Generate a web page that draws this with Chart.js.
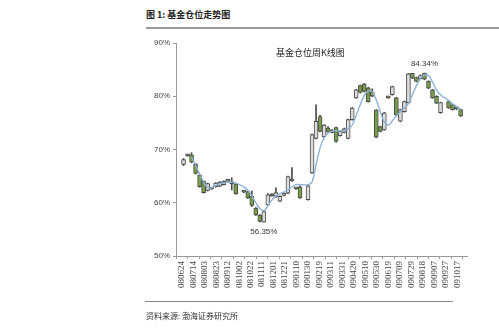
<!DOCTYPE html>
<html>
<head>
<meta charset="utf-8">
<script src="https://cdn.jsdelivr.net/npm/chart.js@4.4.0/dist/chart.umd.min.js"></script>
<style>
  html, body { margin: 0; padding: 0; background: #fff; }
  #wrap { position: relative; width: 499px; height: 329px; overflow: hidden; }
  #c { position: absolute; left: 0; top: 0; }
  .txt { position: absolute; font-family: "Noto Sans CJK SC"; color: #222; white-space: nowrap; line-height: 12px; }
</style>
</head>
<body>
<div id="wrap">
  <div class="txt" style="left:146px;top:9px;font-size:9px;font-weight:bold;">图 1: 基金仓位走势图</div>
  <div style="position:absolute;left:146px;top:27px;width:353px;height:2px;background:#9c9c9c"></div>
  <canvas id="c" width="499" height="329"></canvas>
  <div class="txt" style="left:276px;top:47px;font-size:9px;">基金仓位周K线图</div>
  <div style="position:absolute;left:145px;top:301px;width:308px;height:1px;background:#8a8a8a"></div>
  <div class="txt" style="left:146px;top:310px;font-size:8px;color:#333">资料来源: 渤海证券研究所</div>
</div>
<script>
// weekly candles (week-ending dates), values in %
const candleDates = [
  "080627","080704","080711","080718","080725","080801","080808","080815","080822","080829",
  "080905","080912","080919","080926","081010","081017","081024","081031","081107","081114",
  "081121","081128","081205","081212","081219","081226","090102","090109","090116","090130",
  "090206","090213","090220","090227","090306","090313","090320","090327","090403","090410",
  "090417","090424","090501","090508","090515","090522","090529","090605","090612","090619",
  "090626","090703","090710","090717","090724","090731","090807","090814","090821","090828",
  "090904","090911","090918","091002","091009","091016","091023"
];
const openVals = [
  67.2,68.9,69.0,67.2,65.2,64.0,62.3,62.7,63.0,63.1,
  63.4,64.1,63.6,63.5,62.2,62.1,61.2,59.0,57.7,56.35,
  59.6,61.6,61.2,60.3,61.4,61.8,64.3,62.7,63.0,60.6,
  65.6,72.1,76.2,72.4,74.0,73.6,74.1,72.6,73.2,72.1,
  75.6,79.7,82.0,82.3,81.6,80.8,77.4,74.3,73.7,79.8,
  80.3,79.7,75.3,77.1,78.8,84.3,83.5,83.3,84.34,82.8,
  81.2,80.0,76.9,79.0,78.4,78.0,77.5
];
const closeVals = [
  68.1,68.8,67.6,65.5,63.0,61.9,63.6,62.6,63.7,63.9,
  64.0,64.0,63.8,61.7,62.0,60.9,59.5,57.7,56.5,58.35,
  61.5,61.3,61.9,61.2,61.7,64.9,64.1,62.6,60.9,63.2,
  72.8,75.3,73.4,74.6,73.3,73.2,71.5,73.4,73.9,75.6,
  77.8,81.2,80.7,80.9,79.0,80.0,72.3,73.4,76.9,79.7,
  81.8,76.5,77.5,79.0,84.2,83.4,82.8,83.9,83.2,81.5,
  79.7,78.7,78.8,77.8,77.5,77.6,76.3
];
const highVals = [
  68.3,69.0,69.4,67.4,65.3,64.1,63.7,62.8,63.8,64.0,
  64.1,64.2,64.7,63.6,62.3,62.2,62.2,59.1,57.8,58.5,
  61.7,61.7,62.8,61.3,61.8,65.0,66.6,62.8,63.2,63.3,
  72.9,78.4,76.4,74.7,74.3,73.8,74.2,73.5,74.0,75.7,
  77.9,81.3,82.1,82.4,81.7,81.4,77.5,74.4,77.0,79.9,
  81.9,79.8,77.6,79.1,84.3,84.3,83.6,84.0,84.34,82.9,
  81.3,80.1,78.9,79.1,78.5,78.1,77.6
];
const lowVals = [
  67.0,68.7,67.5,65.4,62.9,61.8,62.2,62.5,62.9,63.0,
  63.3,63.9,62.4,61.6,61.9,60.8,59.3,57.6,56.4,56.35,
  59.5,61.2,61.0,60.2,61.3,61.7,64.0,62.5,60.8,60.5,
  65.5,72.0,73.3,72.3,73.2,73.1,71.4,72.5,73.1,72.0,
  75.5,79.6,80.6,80.8,78.9,79.9,72.2,73.3,73.6,79.6,
  80.2,76.4,75.2,77.0,78.7,83.3,82.7,83.2,83.1,81.4,
  79.6,78.6,76.8,77.7,77.4,77.5,76.2
];
// smoothed trend line
const trendVals = [
  null,null,68.6,67.1,65.4,63.9,62.9,62.8,63.2,63.6,
  63.7,63.9,63.9,63.7,63.0,62.4,61.3,60.0,58.9,58.5,
  59.4,60.5,61.3,61.7,62.0,62.4,63.0,63.4,63.4,63.4,
  63.9,67.1,70.3,72.2,73.1,73.5,73.5,73.5,73.5,73.9,
  74.6,76.5,78.4,80.1,81.0,80.8,79.3,77.1,75.2,74.6,
  75.4,76.3,77.1,77.8,78.6,80.3,82.0,83.3,84.0,83.9,
  82.7,81.2,80.3,79.2,78.6,78.0,77.5
];
const tickLabels = [
  "080624","080714","080803","080823","080912","081002","081022","081111","081201","081221",
  "090110","090130","090219","090311","090331","090420","090510","090530","090619","090709",
  "090729","090818","090907","090927","091017"
];
const yTicks = [50, 60, 70, 80, 90];

const UP_FILL = "#dcdcdc";
const DOWN_FILL = "#78a04c";
const EDGE = "#4a4a4a";

function dayOf(s) {
  const y = 2000 + Number(s.slice(0, 2));
  const m = Number(s.slice(2, 4)) - 1;
  const d = Number(s.slice(4, 6));
  return Math.round((Date.UTC(y, m, d) - Date.UTC(2008, 5, 24)) / 86400000);
}

const xs = candleDates.map(dayOf);
const isUp = (i) => closeVals[i] >= openVals[i];

// min / max labels (56.35% and 84.34%)
const notesPlugin = {
  id: "notes",
  afterDatasetsDraw(chart) {
    const { ctx, scales } = chart;
    let lo = 0, hi = 0;
    lowVals.forEach((v, i) => { if (v < lowVals[lo]) lo = i; });
    highVals.forEach((v, i) => { if (v > highVals[hi]) hi = i; });
    ctx.save();
    ctx.font = '8px "Liberation Sans"';
    ctx.fillStyle = "#333";
    ctx.textAlign = "center";
    ctx.textBaseline = "top";
    ctx.fillText(lowVals[lo].toFixed(2) + "%",
      scales.x.getPixelForValue(xs[lo]), scales.y.getPixelForValue(lowVals[lo]) + 6);
    ctx.textBaseline = "bottom";
    ctx.fillText(highVals[hi].toFixed(2) + "%",
      scales.x.getPixelForValue(xs[hi]), scales.y.getPixelForValue(highVals[hi]) - 5);
    ctx.restore();
  }
};

new Chart(document.getElementById("c"), {
  type: "bar",
  data: {
    datasets: [
      {
        type: "line",
        label: "trend",
        data: xs.map((x, i) => ({ x, y: trendVals[i] })),
        borderColor: "#8db3d8",
        borderWidth: 1.4,
        pointRadius: 0,
        tension: 0.4,
        order: 0,
      },
      {
        label: "body",
        data: xs.map((x, i) => ({ x, y: [openVals[i], closeVals[i]] })),
        backgroundColor: (c) => (isUp(c.dataIndex) ? UP_FILL : DOWN_FILL),
        borderColor: EDGE,
        borderWidth: 1,
        borderSkipped: false,
        barThickness: 4,
        minBarLength: 2,
        grouped: false,
        order: 1,
      },
      {
        label: "wick",
        data: xs.map((x, i) => ({ x, y: [lowVals[i], highVals[i]] })),
        backgroundColor: EDGE,
        barThickness: 1,
        grouped: false,
        order: 2,
      },
    ],
  },
  options: {
    responsive: false,
    animation: false,
    devicePixelRatio: 1,
    layout: { padding: { left: 130, top: 43, right: 32, bottom: 30 } },
    plugins: { legend: { display: false }, tooltip: { enabled: false } },
    scales: {
      x: {
        type: "linear",
        min: 0,
        max: 487,
        afterFit: (s) => { s.height = 43; },
        afterBuildTicks: (s) => { s.ticks = tickLabels.map((t) => ({ value: dayOf(t) })); },
        grid: { drawOnChartArea: false, tickLength: 3, color: "#999" },
        border: { color: "#999" },
        ticks: {
          autoSkip: false,
          minRotation: 90,
          maxRotation: 90,
          padding: 2,
          color: "#444",
          font: { family: "Liberation Serif", size: 9 },
          callback: (v, i) => tickLabels[i],
        },
      },
      y: {
        min: 50,
        max: 90,
        afterFit: (s) => { s.width = 46; },
        afterBuildTicks: (s) => { s.ticks = yTicks.map((v) => ({ value: v })); },
        grid: { drawOnChartArea: false, tickLength: 3, color: "#999" },
        border: { color: "#999" },
        ticks: {
          padding: 3,
          color: "#444",
          font: { family: "Liberation Sans", size: 8 },
          callback: (v) => v + "%",
        },
      },
    },
  },
  plugins: [notesPlugin],
});
</script>
</body>
</html>
